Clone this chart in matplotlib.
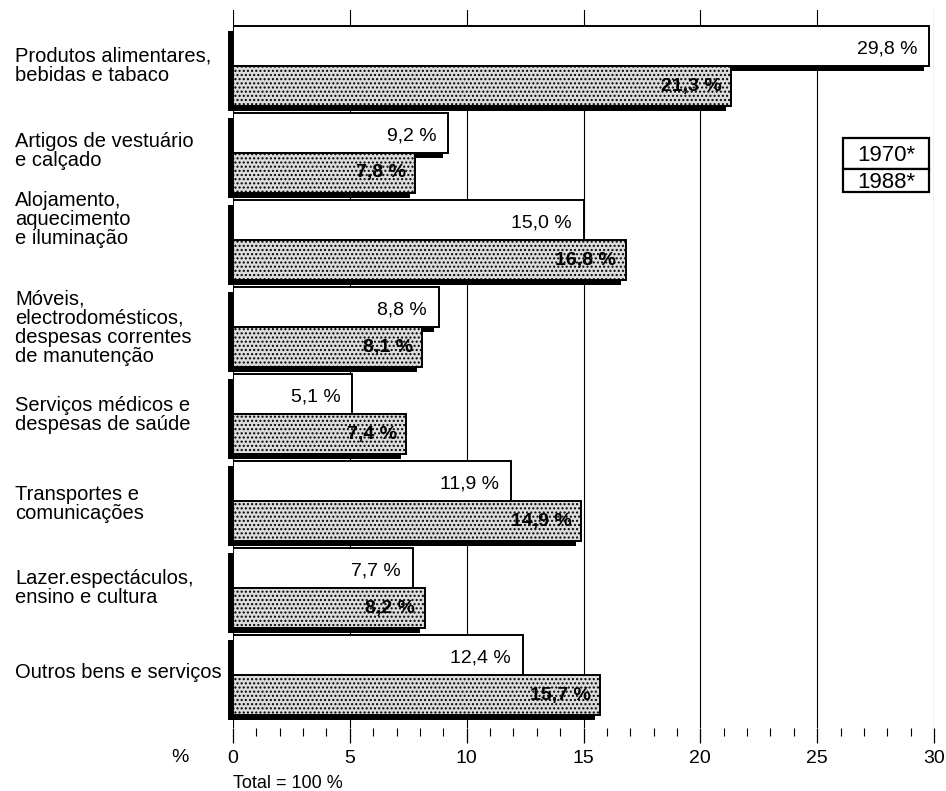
import matplotlib.pyplot as plt
import matplotlib.transforms as mtransforms
from matplotlib.patches import Rectangle

plt.rcParams['font.family'] = ['Liberation Sans', 'DejaVu Sans']
plt.rcParams['hatch.linewidth'] = 1.0

# data (percent of household spending, total = 100 %)
categories = [
    "Produtos alimentares,\nbebidas e tabaco",
    "Artigos de vestuário\ne calçado",
    "Alojamento,\naquecimento\ne iluminação",
    "Móveis,\nelectrodomésticos,\ndespesas correntes\nde manutenção",
    "Serviços médicos e\ndespesas de saúde",
    "Transportes e\ncomunicações",
    "Lazer.espectáculos,\nensino e cultura",
    "Outros bens e serviços",
]
share_1970 = [29.8, 9.2, 15.0, 8.8, 5.1, 11.9, 7.7, 12.4]
share_1988 = [21.3, 7.8, 16.8, 8.1, 7.4, 14.9, 8.2, 15.7]
legend_labels = ["1970*", "1988*"]
xticks = [0, 5, 10, 15, 20, 25, 30]

W, H = 946, 791
fig = plt.figure(figsize=(W / 100, H / 100), dpi=100)
ax = fig.add_axes([233 / W, 1 - 728 / H, 701 / W, 718 / H])

step = 2.175      # group spacing, in bar heights
top_pad = 0.4
sdx, sdy = 0.21, 0.125   # drop shadow offset
label_nudge = [0, -0.05, -0.52, 0.02, 0.02, 0.07, 0, -0.07]

fmt = lambda v: f"{v:.1f} %".replace(".", ",")

for i, (a, b) in enumerate(zip(share_1970, share_1988)):
    y = top_pad + i * step
    # shadows first
    ax.barh(y + sdy, a, left=-sdx, height=1, align='edge', color='black',
            zorder=2, clip_on=False)
    ax.barh(y + 1 + sdy, b, left=-sdx, height=1, align='edge', color='black',
            zorder=2, clip_on=False)
    ax.barh(y, a, height=1, align='edge', facecolor='white', edgecolor='black',
            lw=1.4, zorder=3)
    ax.barh(y + 1, b, height=1, align='edge', facecolor='#dcdcdc', edgecolor='black',
            hatch='....', lw=1.4, zorder=4)
    ax.text(a - 0.5, y + 0.58, fmt(a), ha='right', va='center', fontsize=14, zorder=5)
    ax.text(b - 0.4, y + 1.5, fmt(b), ha='right', va='center', fontsize=14,
            fontweight='bold', zorder=5)

trans = mtransforms.blended_transform_factory(fig.transFigure, ax.transData)
for i, lab in enumerate(categories):
    y = top_pad + i * step + 1 + label_nudge[i]
    ax.text(15 / W, y, lab, transform=trans, ha='left', va='center',
            fontsize=14.5, linespacing=1.0)

ax.set_xlim(0, 30)
ax.set_ylim(top_pad * 2 + 7 * step + 2 - 0.075, 0)
ax.set_yticks([])
ax.set_xticks(xticks)
ax.set_xticks(range(0, 31), minor=True)
ax.tick_params(axis='x', which='major', length=11, width=0.9, pad=5, labelsize=14)
ax.tick_params(axis='x', which='minor', length=6, width=0.8)
ax.grid(axis='x', which='major', color='black', lw=0.8)
ax.set_axisbelow(True)
for s in ax.spines.values():
    s.set_visible(False)

# legend boxes
for k, (lab, y0, y1) in enumerate(zip(legend_labels, [138, 169], [169, 192])):
    fig.patches.append(Rectangle((843 / W, 1 - y1 / H), 86 / W, (y1 - y0) / H,
                                 transform=fig.transFigure, facecolor='white',
                                 edgecolor='black', lw=1.6, zorder=6))
    fig.text(886 / W, 1 - (y0 + y1) / 2 / H - 0.002, lab, ha='center', va='center',
             fontsize=16, zorder=7)

fig.text(180 / W, 1 - 757 / H, "%", ha='center', va='center', fontsize=14)
fig.text(233 / W, 1 - 784 / H, "Total = 100 %", ha='left', va='center', fontsize=13)

fig.savefig("out.png", dpi=100)
